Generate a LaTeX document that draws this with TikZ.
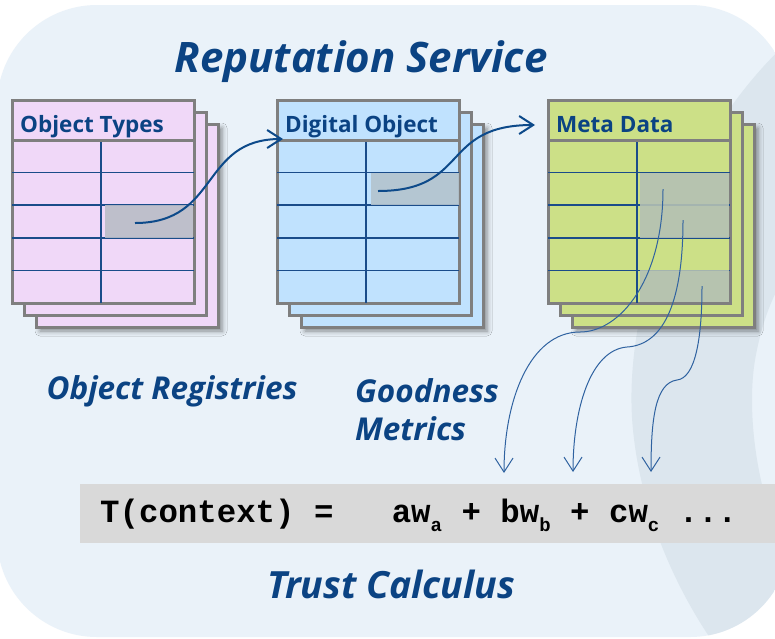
\documentclass[tikz,border=0pt]{standalone}
\usepackage{fontspec}
\setmainfont{Open Sans}
\newfontfamily\formulafont{Liberation Mono}
\usetikzlibrary{arrows.meta,shadows.blur}

\definecolor{bgblue}{HTML}{EAF2F9}
\definecolor{bandblue}{HTML}{DCE6EE}
\definecolor{navy}{HTML}{0B4383}
\definecolor{sheetgray}{HTML}{7F7F7F}
\definecolor{pinkfill}{HTML}{F0D8F8}
\definecolor{bluefill}{HTML}{C0E2FE}
\definecolor{greenfill}{HTML}{CCE087}
\definecolor{pinkcell}{HTML}{B9BDC7}
\definecolor{bluecell}{HTML}{B3C3CE}
\definecolor{greencell}{HTML}{B4C0B4}
\definecolor{gridnavy}{HTML}{1A4C8A}
\definecolor{linkblue}{HTML}{0D4A8A}
\definecolor{thinlink}{HTML}{2F62A0}
\definecolor{formulagray}{HTML}{D9D9D9}

\tikzset{
  sheet/.style={draw=sheetgray, line width=3pt, rectangle, inner sep=0pt,
    outer sep=0pt, minimum width=182pt, minimum height=203pt},
  backsheet/.style={sheet, blur shadow={shadow xshift=4pt, shadow yshift=-4pt,
    shadow blur radius=5pt, shadow opacity=45}},
  sheetline/.style={draw=sheetgray, line width=3pt},
  gridline/.style={draw=gridnavy, line width=1.5pt},
  headtext/.style={font=\fontsize{22.5}{26}\selectfont\bfseries, text=navy,
    inner sep=0pt},
  bigtitle/.style={font=\fontsize{42}{46}\selectfont\bfseries\itshape,
    text=navy, inner sep=0pt},
  caption/.style={font=\fontsize{31.5}{36}\selectfont\bfseries\itshape,
    text=navy, inner sep=0pt},
  cell/.style={fill opacity=0.9},
  link/.style={draw=linkblue, line width=2pt,
    -{Straight Barb[length=14pt,width=18pt]}},
  thinarrow/.style={draw=thinlink, line width=1pt,
    -{Straight Barb[length=14pt,width=18pt]}},
}

% one registry: a stack of three sheets with a header row and a 2x5 grid
% #1 name, #2 left, #3 top, #4 fill, #5 header text
\newcommand\regtable[5]{%
  \node[backsheet, fill=#4] (#1-back) at (#2+24+91,#3+24+101.5) {};
  \node[sheet, fill=#4] (#1-mid) at (#2+12+91,#3+12+101.5) {};
  \node[sheet, fill=#4] (#1) at (#2+91,#3+101.5) {};
  \foreach \k in {1,...,4}
    \draw[gridline] (#2,#3+40+\k*32.6) -- (#2+182,#3+40+\k*32.6);
  \draw[gridline] (#2+89,#3+40) -- (#2+89,#3+203);
  \node[headtext, anchor=base west] (#1-title) at (#2+8,#3+32) {#5};
}

\begin{document}
\begin{tikzpicture}[x=1pt,y=-1pt]
\useasboundingbox (0,0) rectangle (775,638);
\fill[white] (0,0) rectangle (775,638);

% rounded backdrop with a darker sweeping band on the right
\begin{scope}
  \clip[rounded corners=100pt] (-3,5) rectangle (790,637);
  \fill[bgblue] (-10,0) rectangle (800,650);
  \fill[bandblue] (790,40) .. controls (690,130) and (620,300) .. (633,430)
    .. controls (643,530) and (690,610) .. (715,645) -- (800,645) -- (800,575)
    .. controls (760,520) and (745,420) .. (755,360)
    .. controls (762,320) and (775,285) .. (800,255) -- cycle;
\end{scope}

\node[bigtitle, anchor=base] (title) at (361,72) {Reputation Service};

% the three registries
\regtable{types}{12}{100}{pinkfill}{Object Types}
\regtable{digital}{277}{100}{bluefill}{Digital Object}
\regtable{meta}{548}{100}{greenfill}{Meta Data}

% header separators drawn over the grid
\draw[sheetline] (12,140) -- (194,140);
\draw[sheetline] (277,140) -- (459,140);
\draw[sheetline] (548,140) -- (730,140);

% highlighted cells
\fill[pinkcell, cell] (105,205.2) rectangle (192.5,237.8);
\fill[bluecell, cell] (371,172.6) rectangle (458.5,205.2);
\fill[greencell, cell] (640,172.6) rectangle (728.5,237.8);
\fill[greencell, cell] (640,270.4) rectangle (728.5,301.5);

% link end points
\coordinate (typesrc) at (135,223);
\coordinate (digin) at (283,139);
\coordinate (digsrc) at (378,191);
\coordinate (metain) at (535,125);
\coordinate (ma) at (663,189);
\coordinate (mb) at (683,220);
\coordinate (mc) at (702,286);
\coordinate (wa) at (504,473);
\coordinate (wb) at (573,472);
\coordinate (wc) at (651,472);

\draw[link] (typesrc) .. controls (220,223) and (200,139) .. (digin);
\draw[link] (digsrc) .. controls (470,191) and (440,125) .. (metain);

\draw[thinarrow] (ma) .. controls (663,280) and (620,332) .. (580,332)
  .. controls (530,332) and (504,400) .. (wa);
\draw[thinarrow] (mb) .. controls (683,310) and (660,345) .. (627,347)
  .. controls (590,350) and (573,410) .. (wb);
\draw[thinarrow] (mc) .. controls (702,340) and (695,378) .. (677,380)
  .. controls (655,383) and (651,420) .. (wc);

% captions
\node[caption, anchor=base] (registries) at (172,399) {Object Registries};
\node[caption, anchor=base west] (goodness) at (355,402) {Goodness};
\node[caption, anchor=base west] (metrics) at (355,440) {Metrics};

% the trust formula
\fill[formulagray] (80,484) rectangle (775,543);
\node[anchor=base west, inner sep=0pt, font=\formulafont\bfseries\fontsize{32.4}{36}\selectfont]
  (formula) at (100,522)
  {T(context) =\ \ \ aw\raisebox{-0.3em}{\fontsize{19}{19}\selectfont a} + bw\raisebox{-0.3em}{\fontsize{19}{19}\selectfont b} + cw\raisebox{-0.3em}{\fontsize{19}{19}\selectfont c} ...};

\node[caption, font=\fontsize{37.5}{42}\selectfont\bfseries\itshape, anchor=base]
  (calculus) at (391,598) {Trust Calculus};
\end{tikzpicture}
\end{document}
